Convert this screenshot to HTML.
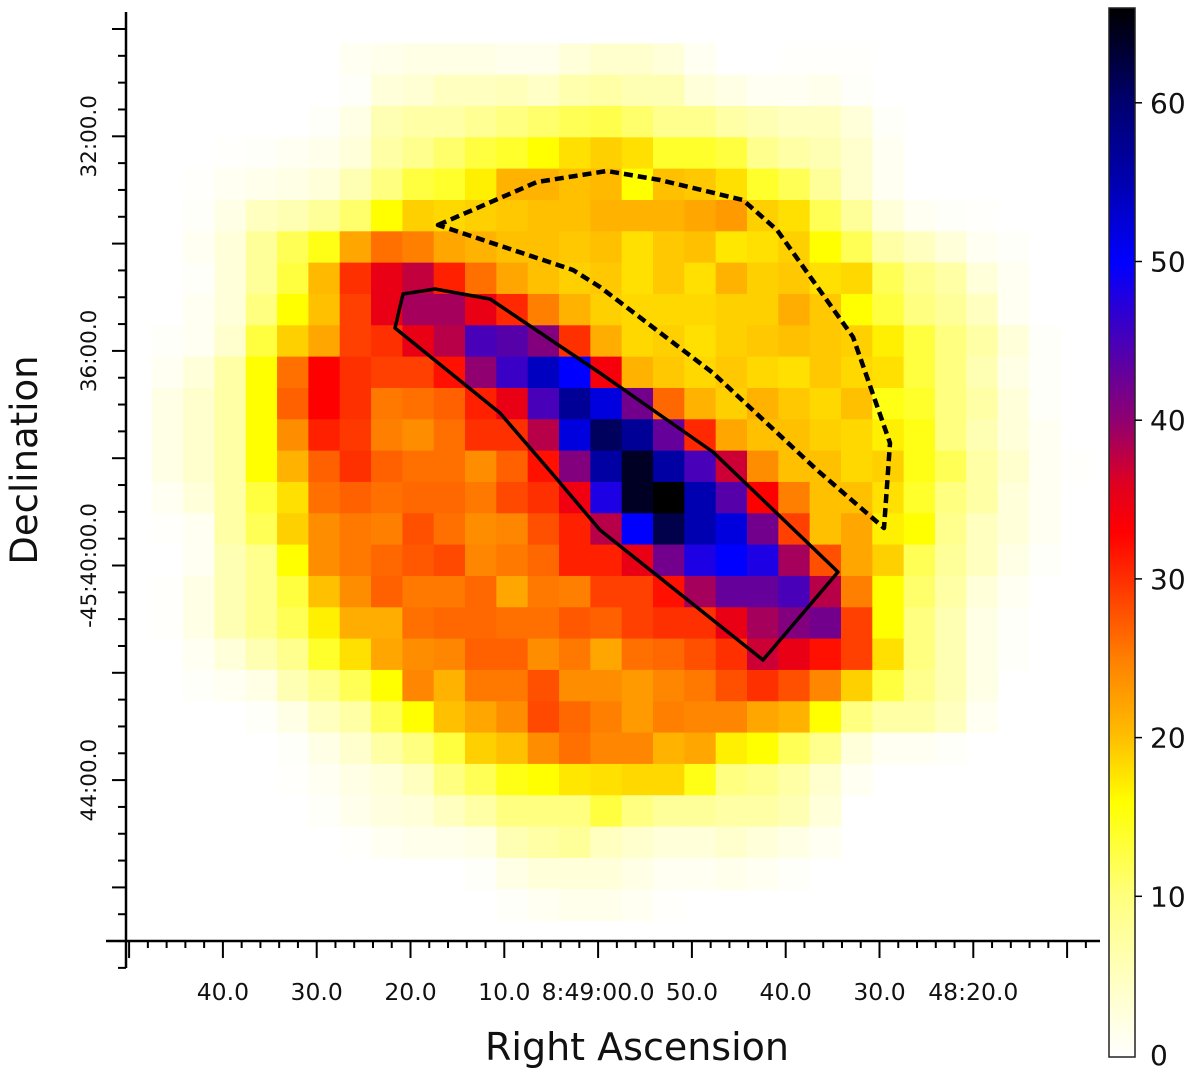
<!DOCTYPE html>
<html><head><meta charset="utf-8"><style>
html,body{margin:0;padding:0;background:#fff;}
svg{display:block;}
text{font-family:"DejaVu Sans","Liberation Sans",sans-serif;fill:#111;}
</style></head><body>
<svg id="chart" width="1200" height="1080" viewBox="0 0 1200 1080" xmlns="http://www.w3.org/2000/svg">
<defs><linearGradient id="cbgrad" x1="0" y1="1" x2="0" y2="0"></linearGradient></defs>
<g id="cells"></g>
<g id="regions">
<polygon points="403,294 435,289 490,299 600,373 713,452 838,572 763,660 600,530 556,478 500,413 395,328" fill="none" stroke="#000" stroke-width="3.5" stroke-linejoin="round"/>
<polygon points="438,225 537,182 607,171 660,180 743,200 777,230 853,337 890,443 886,500 884,528 817,470 713,373 600,287 573,270 453,230" fill="none" stroke="#000" stroke-width="4.5" stroke-dasharray="9,5" stroke-linejoin="round"/>
</g>
<g id="axes"></g>
<text x="0" y="0" transform="translate(37,460) rotate(-90)" text-anchor="middle" font-size="37">Declination</text>
<text x="637" y="1060" text-anchor="middle" font-size="38">Right Ascension</text>
<g id="colorbar"></g>
</svg>
<script>
const rowStart = [0,7,7,6,3,2,2,2,2,2,1,1,1,1,1,1,1,2,1,1,2,2,4,5,5,6,7,11,12,0];
const rowValues = [
[],
[1,1.5,2,2,2,1.5,1.5,3,4,4,3,1,0,0,0.3,0.3,0.3],
[0.5,3,3.5,5,5,5.5,4.5,6.5,7,6,6,3,2,1,1,1.5,0.5],
[0.5,2,6,7,7,8.5,10,11,12,12.5,11,9,9,7,6,5,5,3,0.5],
[0.3,0.5,1,1.5,3,7,9,11,13,14,16,18,19,18,14,14,13,9,7,6,4,1],
[0.3,1,1.5,2,3,6,10,13,14,17,21,21,20,20.5,16,20,19.5,18,14,12,8,4,1],
[0.5,2,5,6,8,11,16,19,18.5,19,19.5,20,20,21,21,21,22,23,19,18,12,8,3,1,0.5,0.3],
[1,3,8,12,15,22,26,25,22,21,20,20,19.5,20,18,19.5,20,17.5,18,19,16,12,7,5,3,1,0.5],
[0.5,3,8,13,20.5,30,35,37.5,31,26,22,20,19,19.5,18,19.5,18,21,19,19.5,18,18.5,12,9,7,3,1],
[1,3,10,16,20,29,35,39,39,35,30.5,25,21,19,18.5,18.5,18.5,19,19,21.5,19.5,16,13,10,8,5,1],
[0.5,1,4,13,19,22,29,30,35,38,45,44,41,30,21.5,18.5,19,18,19,19.5,20,19.5,19,17,13,10,7,3,0.5],
[1,3,7,16,26,33,30,29,29,32,40,46,54,50,34,21,19.5,18.5,19.5,18.5,18,19.5,18.5,18,13,10,6,2,0.5],
[2,4,7,16,27,33,30,25.5,26,27,31,35,45,57,52,42,26.5,21,19,21,19.5,18.5,20,15,14,10,7,3,0.5],
[2,4,7,16,24,31,29.5,25,24,26,30,30,38,52,61,57,43,30.5,22,20,20,19,18.5,17,15,10,6,3,1],
[2,4,7,16,21,27,30,27,26,26,24,27,32,41,56,64,56,45,37,24,20,20,18.5,19,15,12,7,4,1,0.3],
[1,3,7,13,18,26,27,26,26.5,26.5,25.5,28.5,30,34.5,48,64,66,55,44,33,25,20,20,18,14,10,7,3,1],
[0.3,1,7,12,19,24,25.5,25,28,26,24,24.5,28,31,38,50,62,55,52,42,29,20,22,17,16,9,5,3,1],
[1,6,9,16,24,25.5,26.5,27.5,28.5,24.5,25.5,26.5,31,31,35,42,48,50,48,39,28,22,19,12,8,5,2,0.5],
[0.3,2,6,9,13,20,24,27,25.5,25.5,26.5,22,25.5,25,29,29,32,39,43,43,45,38,25,16,11,7,3,1],
[0.3,2,6,9,12,17,21.5,21.5,26,26.5,26.5,26,26,27.5,27,29,30,30,35,39,41,42,29,16,10,6,2,0.5],
[1,3,6,9,14,18,22,24,24.5,27,27,24,25.5,22,26,26.5,28,30,37,35,32,29,18,10,6,2,0.5],
[0.5,1,2,6,9,12,16,24.5,21,25.5,25.5,28,24,24,23,24.5,25.5,28,30,28,24.5,19,13,9,6,2],
[0.5,2,5,7,12,16,20,22,24,28.5,26.5,25,23,25,24.5,24.5,22,21,16,10,7,7,5,1],
[0.5,2,4,7,10,13,19,20,24,26,24.5,24.5,21,22,17,16,12,9,3,1,1,0.5],
[0.3,1,2,3,5,10,12,15,16,17.5,18,18.5,18.5,15,10,9,7,4,1],
[0.5,1.5,2.5,3,5,7,10,10,10,13,10,8,8,7,7,6,3],
[0.3,1,1.5,1.5,2,6,7,8,5,4,3,3,4,3,2,1],
[0.5,2,3,3,3,2,1,1,1.5,1,0.5],
[0.5,1,1.5,1.5,1,0.3],
[]
];
const cbTickValues = [0,10,20,30,40,50,60];
const xTickLabels = ["40.0","30.0","20.0","10.0","8:49:00.0","50.0","40.0","30.0","48:20.0"];
const yTickLabels = ["32:00.0","36:00.0","-45:40:00.0","44:00.0"];

const NS="http://www.w3.org/2000/svg";
const stops=[[0,[255,255,255]],[5,[255,255,192]],[10,[255,255,128]],[16,[255,255,0]],[20,[255,192,0]],[25,[255,128,0]],[30,[255,48,0]],[33,[255,0,0]],[36,[224,0,32]],[40,[144,0,112]],[45,[72,0,184]],[50,[0,0,255]],[55,[0,0,176]],[60,[0,0,112]],[66,[0,0,0]]];
const VMAX=66;
function cmap(v){
  v=Math.max(0,Math.min(VMAX,v));
  for(let i=1;i<stops.length;i++){
    if(v<=stops[i][0]){
      const a=stops[i-1],b=stops[i],t=(v-a[0])/(b[0]-a[0]);
      const c=a[1].map((x,k)=>Math.round(x+(b[1][k]-x)*t));
      return `rgb(${c[0]},${c[1]},${c[2]})`;
    }
  }
  return "rgb(0,0,0)";
}
const CW=31.33, X0=120.4, Y0=12.0;
const xCell=c=>X0+c*CW, yCell=r=>Y0+r*CW;
function mk(tag,attrs,parent){const e=document.createElementNS(NS,tag);for(const k in attrs)e.setAttribute(k,attrs[k]);parent.appendChild(e);return e;}
const cells=document.getElementById('cells');
rowValues.forEach((row,r)=>{
  row.forEach((v,i)=>{
    if(v<=0)return;
    const c=rowStart[r]+i;
    const e=mk('rect',{x:xCell(c).toFixed(2),y:yCell(r).toFixed(2),width:(CW+0.6).toFixed(2),height:(CW+0.6).toFixed(2),fill:cmap(v)},cells);
    
    
  });
});
const ax=document.getElementById('axes');
const AXY=941, AXX=126;
let l=mk('line',{x1:106,y1:AXY,x2:1100,y2:AXY,stroke:'#000','stroke-width':2.5},ax);

l=mk('line',{x1:AXX,y1:12,x2:AXX,y2:968,stroke:'#000','stroke-width':2.5},ax);

const xMaj0=222.9, xStep=93.8;
for(let k=-5;k<=48;k++){
  const x=xMaj0+k*xStep/5; if(x<108||x>1098)continue;
  const major=(k%5===0);
  const t=mk('line',{x1:x,y1:AXY,x2:x,y2:AXY+(major?17:7),stroke:'#000','stroke-width':2},ax);
  
}
xTickLabels.forEach((s,i)=>{
  const t=mk('text',{x:xMaj0+i*xStep,y:1000,'text-anchor':'middle','font-size':23.5},ax);t.textContent=s;
  
});
const yMaj0=29, yStep=107.3;
for(let k=0;k<=40;k++){
  const y=yMaj0+k*yStep/4; if(y>969)continue;
  const major=(k%4===0);
  const t=mk('line',{x1:AXX,y1:y,x2:AXX-(major?14:8),y2:y,stroke:'#000','stroke-width':2},ax);
  
}
yTickLabels.forEach((s,i)=>{
  const y=yMaj0+yStep*(1+2*i);
  const t=mk('text',{x:0,y:0,transform:`translate(96,${y}) rotate(-90)`,'text-anchor':'middle','font-size':21.5},ax);t.textContent=s;
  
});
const grad=document.getElementById('cbgrad');
for(let v=0;v<=VMAX;v+=1){mk('stop',{offset:(v/VMAX).toFixed(4),'stop-color':cmap(v)},grad);}
const cb=document.getElementById('colorbar');
const CBX=1109,CBW=26,CBT=8,CBB=1057;
const cbY=v=>1055-v*15.87;
let r=mk('rect',{x:CBX,y:CBT,width:CBW,height:CBB-CBT,fill:'url(#cbgrad)',stroke:'#222','stroke-width':1.5},cb);

cbTickValues.forEach(v=>{
  const y=cbY(v);
  if(v>0){const t=mk('line',{x1:CBX+CBW,y1:y,x2:CBX+CBW+7,y2:y,stroke:'#000','stroke-width':1.5},cb);
  }
  const tx=mk('text',{x:1150,y:y+10,'font-size':28},cb);tx.textContent=String(v);
  
});
</script>
</body></html>
